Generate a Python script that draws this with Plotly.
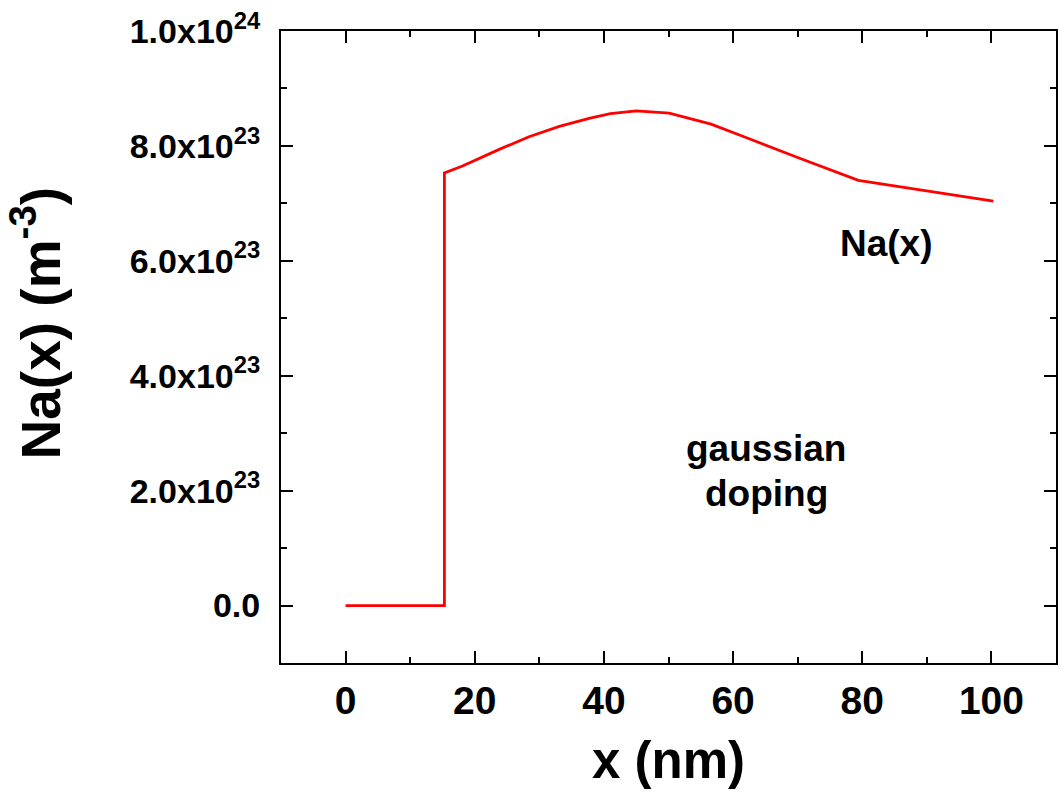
import plotly.graph_objects as go

# Data (x in nm, Na in m^-3)
x_nm = [0, 15.3, 15.3, 18.1, 23.8, 28.4, 33.1, 37.7, 41.0, 45.0, 50.1, 56.6, 62.4, 67.1, 70.2, 79.4, 100.3]
na = [0, 0, 7.53e23, 7.65e23, 7.94e23, 8.16e23, 8.34e23, 8.48e23, 8.56e23, 8.61e23, 8.57e23,
      8.38e23, 8.13e23, 7.92e23, 7.79e23, 7.40e23, 7.04e23]

y_tickvals = [0, 2e23, 4e23, 6e23, 8e23, 1e24]
y_ticktext = ["0.0", "2.0x10<sup>23</sup>", "4.0x10<sup>23</sup>", "6.0x10<sup>23</sup>",
              "8.0x10<sup>23</sup>", "1.0x10<sup>24</sup>"]
x_tickvals = [0, 20, 40, 60, 80, 100]

FONT = "Liberation Sans, Arial, Helvetica, sans-serif"

fig = go.Figure()
fig.add_trace(go.Scatter(x=x_nm, y=na, mode="lines",
                         line=dict(color="#ff0000", width=2.8), showlegend=False))

axis_common = dict(
    showline=True, linewidth=2, linecolor="black", mirror="allticks",
    ticks="inside", ticklen=12, tickwidth=2, tickcolor="black",
    showgrid=False, zeroline=False,
)

fig.update_xaxes(
    range=[-10, 110], tickvals=x_tickvals, ticktext=[str(v) for v in x_tickvals],
    minor=dict(ticks="inside", ticklen=6, tickwidth=2, dtick=10, tick0=0, tickcolor="black"),
    tickfont=dict(family=FONT, size=39, color="black", weight="bold"),
    title=dict(text="x (nm)", font=dict(family=FONT, size=51, color="black", weight="bold"), standoff=22),
    ticklabelstandoff=2,
    **axis_common,
)
fig.update_yaxes(
    range=[-1e23, 1e24], tickvals=y_tickvals, ticktext=y_ticktext,
    minor=dict(ticks="inside", ticklen=6, tickwidth=2, dtick=1e23, tick0=0, tickcolor="black"),
    tickfont=dict(family=FONT, size=34, color="black", weight="bold"),
    ticklabelstandoff=12,
    **axis_common,
)

# y-axis title as a rotated annotation (placed like the reference)
fig.add_annotation(xref="paper", yref="paper", x=-0.3155, y=0.538,
                   xanchor="center", yanchor="middle",
                   text="Na(x) (m<sup>-3</sup>)", textangle=-90, showarrow=False,
                   font=dict(family=FONT, size=55, color="black", weight="bold"))

ann_font = dict(family=FONT, size=37, color="black", weight="bold")
fig.add_annotation(x=83.8, y=6.31e23, text="Na(x)", showarrow=False, font=ann_font)
fig.add_annotation(x=65.1, y=2.73e23, text="gaussian", showarrow=False, font=ann_font)
fig.add_annotation(x=65.1, y=1.95e23, text="doping", showarrow=False, font=ann_font)

fig.update_layout(
    width=1060, height=795,
    margin=dict(l=281, r=2, t=31, b=132),
    plot_bgcolor="white", paper_bgcolor="white",
)

fig.write_html("out.html")
